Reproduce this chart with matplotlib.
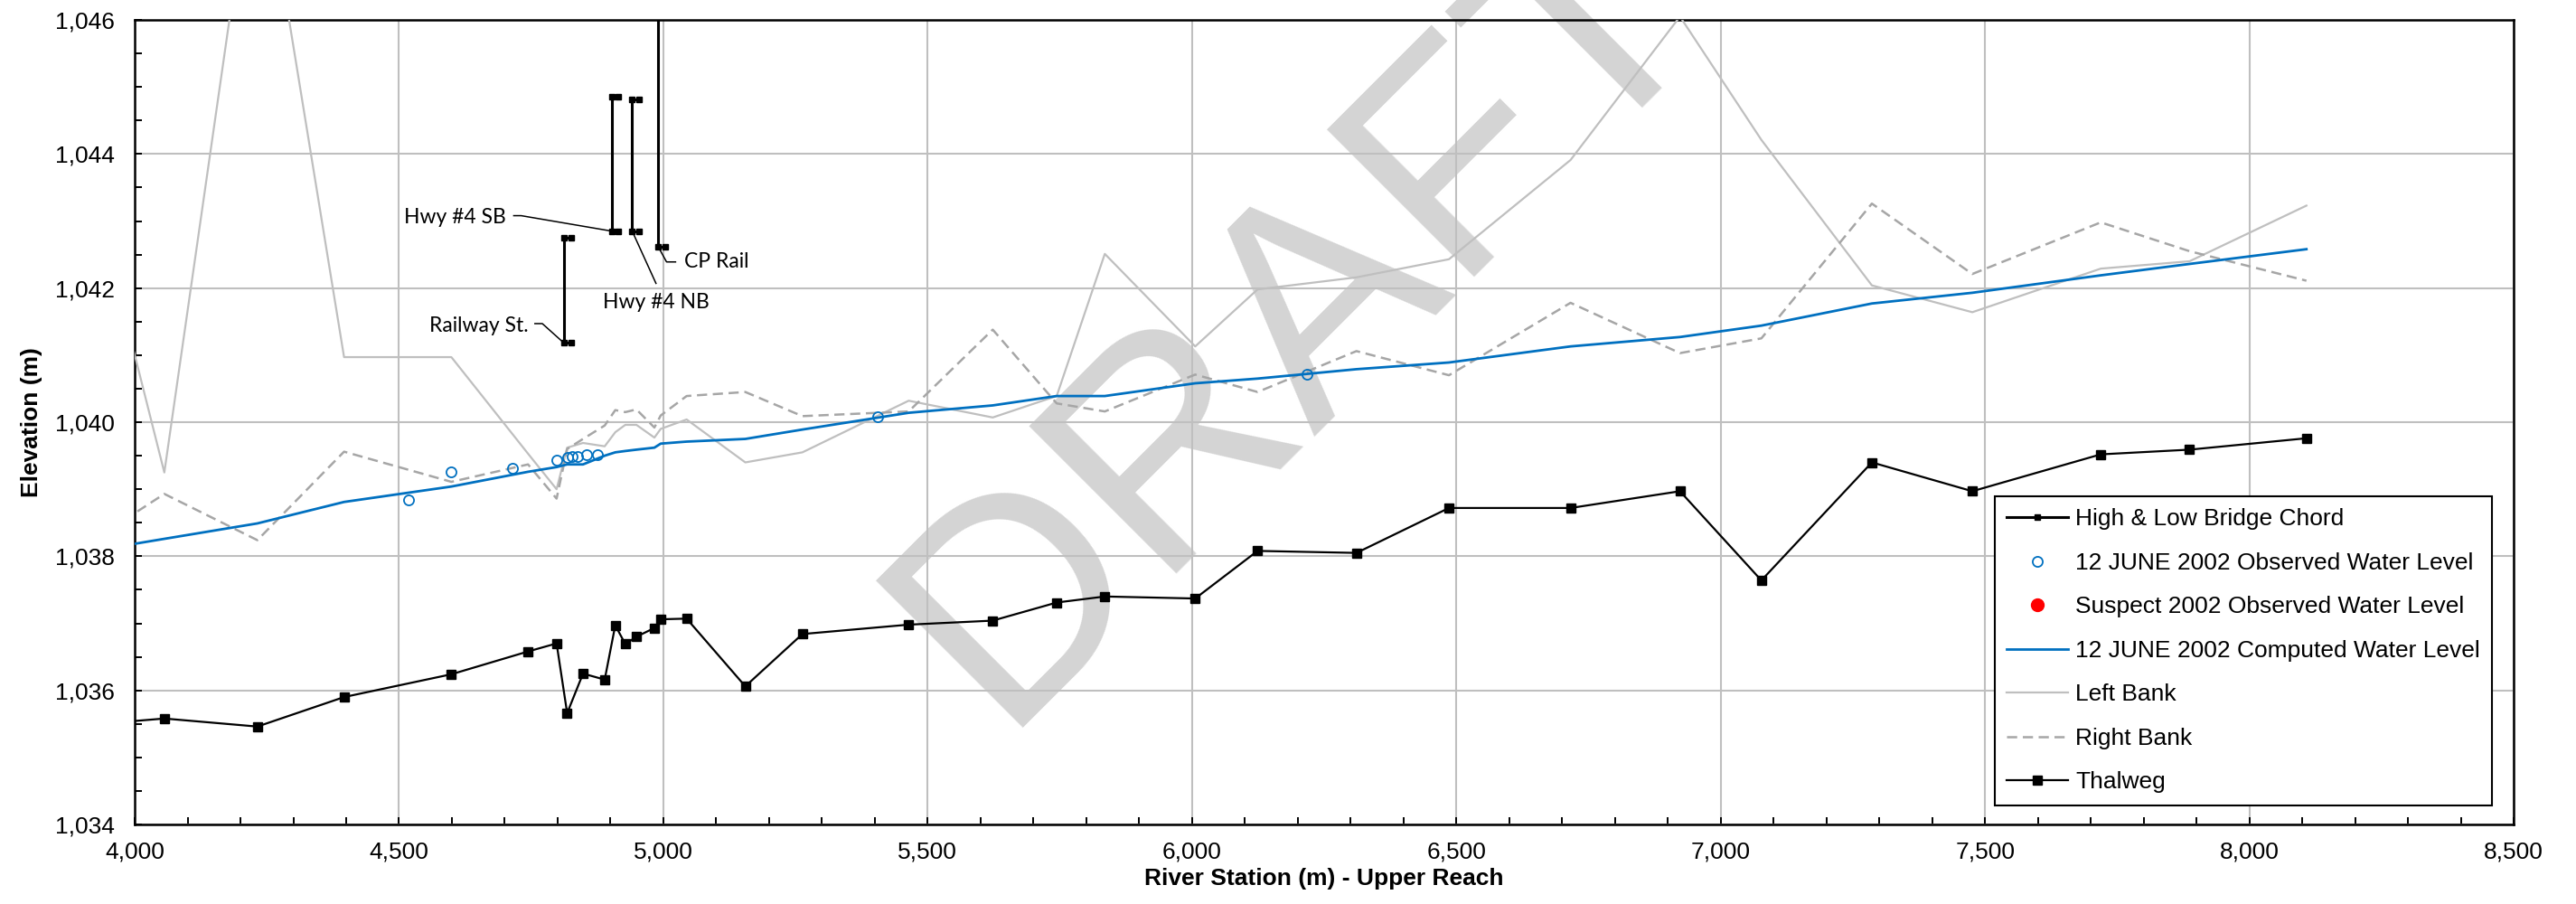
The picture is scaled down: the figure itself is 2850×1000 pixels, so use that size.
import matplotlib
matplotlib.use('Agg')
import matplotlib.pyplot as plt
from matplotlib.ticker import MultipleLocator, StrMethodFormatter

plt.rcParams['font.family'] = ['Liberation Sans', 'DejaVu Sans']

# cross section river stations (m)
station = [3980, 4056, 4232, 4396, 4599, 4744, 4798, 4818, 4848, 4889, 4909, 4928, 4949,
           4983, 4995, 5044, 5155, 5263, 5464, 5623, 5744, 5835, 6006, 6124, 6311, 6486,
           6716, 6923, 7077, 7286, 7476, 7719, 7887, 8108]

thalweg = [1035.53, 1035.58, 1035.46, 1035.90, 1036.24, 1036.58, 1036.70, 1035.66, 1036.25,
           1036.16, 1036.97, 1036.69, 1036.80, 1036.93, 1037.06, 1037.07, 1036.06, 1036.84,
           1036.98, 1037.04, 1037.31, 1037.40, 1037.37, 1038.08, 1038.05, 1038.72, 1038.72,
           1038.97, 1037.64, 1039.40, 1038.97, 1039.52, 1039.59, 1039.76]

computed_ws = [1038.16, 1038.26, 1038.49, 1038.81, 1039.04, 1039.26, 1039.33, 1039.37, 1039.37,
               1039.50, 1039.55, 1039.57, 1039.59, 1039.62, 1039.68, 1039.71, 1039.75, 1039.89,
               1040.14, 1040.25, 1040.39, 1040.39, 1040.58, 1040.65, 1040.79, 1040.89, 1041.13,
               1041.27, 1041.44, 1041.77, 1041.93, 1042.19, 1042.36, 1042.58]

left_bank = [1041.63, 1039.25, 1048.90, 1040.97, 1040.97, 1039.53, 1039.00, 1039.62, 1039.69,
             1039.64, 1039.85, 1039.96, 1039.96, 1039.77, 1039.90, 1040.04, 1039.40, 1039.55,
             1040.32, 1040.07, 1040.39, 1042.51, 1041.13, 1041.98, 1042.16, 1042.43, 1043.91,
             1046.05, 1044.21, 1042.04, 1041.64, 1042.29, 1042.40, 1043.23]

right_bank = [1038.54, 1038.93, 1038.24, 1039.56, 1039.11, 1039.37, 1038.86, 1039.60, 1039.75,
              1039.95, 1040.18, 1040.15, 1040.19, 1039.92, 1040.10, 1040.39, 1040.45, 1040.09,
              1040.16, 1041.38, 1040.28, 1040.16, 1040.71, 1040.45, 1041.06, 1040.70, 1041.78,
              1041.03, 1041.25, 1043.26, 1042.21, 1042.98, 1042.55, 1042.11]

# 12 June 2002 observed water levels
obs_station = [4518, 4599, 4714, 4799, 4819, 4828, 4838, 4855, 4875, 5406, 6218]
obs_elev = [1038.84, 1039.26, 1039.31, 1039.44, 1039.48, 1039.49, 1039.49, 1039.51, 1039.52,
            1040.08, 1040.71]

# suspect observations (none in this reach)
suspect_station = []
suspect_elev = []

# bridges: high and low chord
bridge_name = ['Railway St.', 'Hwy #4 SB', 'Hwy #4 NB', 'CP Rail']
bridge_station = [4812, 4902, 4941, 4990]
bridge_high = [1042.75, 1044.85, 1044.82, 1047.50]
bridge_low = [1041.18, 1042.85, 1042.85, 1042.62]
bridge_width = 13

# bridge callouts
label_x = [4745, 4702, 4987, 5039]
label_y = [1041.44, 1043.05, 1041.78, 1042.39]
label_ha = ['right', 'right', 'center', 'left']
leader_x = [[4757, 4771], [4717, 4731], [4986], [5023, 5006]]
leader_y = [[1041.47, 1041.47], [1043.08, 1043.08], [1042.07], [1042.39, 1042.39]]

fig = plt.figure(figsize=(28.5, 10), dpi=100)
ax = fig.add_axes([0.0523, 0.088, 0.9235, 0.890])
ax.set_facecolor('none')

# DRAFT watermark
fig.text(0.3874, 0.195, 'DRAFT', rotation=45, rotation_mode='anchor', ha='left', va='baseline',
         fontsize=241, color='#d4d4d4', zorder=-1)

lb, = ax.plot(station, left_bank, color='#bfbfbf', lw=1.6, zorder=3)
rb, = ax.plot(station, right_bank, color='#a6a6a6', lw=1.8, dashes=(4.5, 2.5), zorder=3)
ws, = ax.plot(station, computed_ws, color='#0070c0', lw=2.0, zorder=4)
obs, = ax.plot(obs_station, obs_elev, 'o', mfc='none', mec='#0070c0', ms=8, mew=1.3, zorder=5)
sus, = ax.plot(suspect_station, suspect_elev, 'o', color='red', ms=10, zorder=5)
thw, = ax.plot(station, thalweg, color='black', lw=1.6, marker='s', ms=7.5, zorder=6)

for i in range(len(bridge_name)):
    s = bridge_station[i]
    xs = [s + bridge_width, s, s, s + bridge_width]
    ys = [bridge_high[i], bridge_high[i], bridge_low[i], bridge_low[i]]
    br, = ax.plot(xs, ys, color='black', lw=2.2, marker='s', ms=4, zorder=7)
    # callout
    ax.text(label_x[i], label_y[i], bridge_name[i], ha=label_ha[i], va='center',
            fontsize=16.5, family='Lato', zorder=8)
    ax.plot(leader_x[i] + [s], leader_y[i] + [bridge_low[i]], color='black', lw=1.1, zorder=7)

ax.set_xlim(4000, 8500)
ax.set_ylim(1034, 1046)
ax.xaxis.set_major_locator(MultipleLocator(500))
ax.xaxis.set_minor_locator(MultipleLocator(100))
ax.yaxis.set_major_locator(MultipleLocator(2))
ax.yaxis.set_minor_locator(MultipleLocator(0.5))
ax.xaxis.set_major_formatter(StrMethodFormatter('{x:,.0f}'))
ax.yaxis.set_major_formatter(StrMethodFormatter('{x:,.0f}'))
ax.tick_params(which='both', direction='in', top=False, right=False, width=1.4, length=6,
               labelsize=19)
ax.tick_params(axis='x', pad=13)
ax.tick_params(axis='y', pad=16)

ax.grid(True, which='major', color='#bfbfbf', lw=1.5)
ax.set_axisbelow(True)
for sp in ax.spines.values():
    sp.set_linewidth(1.8)

ax.set_xlabel('River Station (m) - Upper Reach', fontsize=19, fontweight='bold', labelpad=4)
ax.set_ylabel('Elevation (m)', fontsize=19, fontweight='bold', labelpad=10)

handles = [br, obs, sus, ws, lb, rb, thw]
labels = ['High & Low Bridge Chord', '12 JUNE 2002 Observed Water Level',
          'Suspect 2002 Observed Water Level', '12 JUNE 2002 Computed Water Level',
          'Left Bank', 'Right Bank', 'Thalweg']
leg = ax.legend(handles, labels, loc='lower right', bbox_to_anchor=(0.991, 0.024), fontsize=19,
                fancybox=False, edgecolor='black', framealpha=1, handlelength=2.6,
                handletextpad=0.3, labelspacing=0.93, borderpad=0.5, borderaxespad=0)
leg.get_frame().set_linewidth(1.5)
leg.set_zorder(10)

fig.savefig('out.png', dpi=100)
